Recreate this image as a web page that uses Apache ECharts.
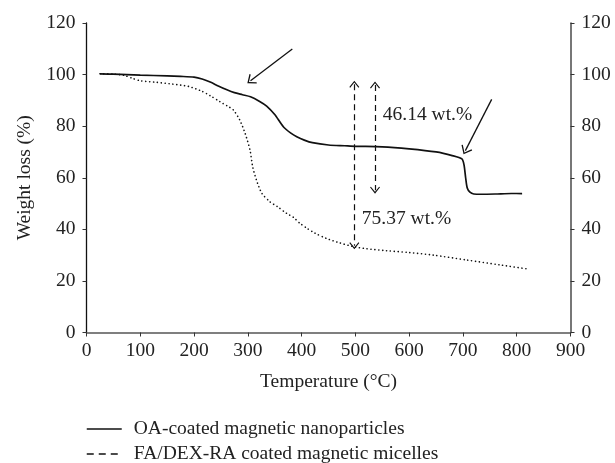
<!DOCTYPE html>
<html>
<head>
<meta charset="utf-8">
<script src="https://cdn.jsdelivr.net/npm/echarts@6/dist/echarts.min.js"></script>
<style>
  html, body { margin: 0; padding: 0; background: #fff; }
  #chart { width: 615px; height: 463px; }
</style>
</head>
<body>
<div id="chart"></div>
<script>
// TGA curves: temperature (°C) and remaining weight (%)
const oaTemp = [25, 50, 100, 150, 175, 200, 215, 230, 245, 260, 275, 290, 305, 322, 335, 350, 366, 380, 391, 405, 420, 450, 480, 500, 550, 600, 650, 680, 698, 702, 705, 708, 713, 720, 735, 760, 790, 810];
const oaWeight = [100.3, 100.2, 99.8, 99.5, 99.3, 99.0, 98.3, 97.1, 95.6, 94.2, 93.0, 92.2, 91.4, 89.6, 87.8, 84.5, 79.8, 77.3, 75.9, 74.6, 73.6, 72.7, 72.4, 72.2, 72.0, 71.2, 70.0, 68.6, 67.3, 65.0, 60.0, 56.0, 54.4, 53.7, 53.6, 53.7, 53.9, 53.86];

const micTemp = [25, 50, 70, 85, 100, 130, 160, 190, 214, 230, 248, 262, 273, 285, 295, 304, 309, 316, 326, 341, 355, 372, 385, 397, 410, 425, 446, 470, 496, 520, 558, 600, 645, 707, 769, 820];
const micWeight = [100.3, 100.2, 99.7, 98.6, 97.6, 97.0, 96.3, 95.4, 93.6, 91.8, 89.5, 87.8, 86.3, 82.4, 77.2, 70.8, 64.3, 59.1, 54.0, 50.7, 48.8, 46.2, 44.6, 42.3, 40.4, 38.5, 36.5, 34.8, 33.3, 32.5, 31.7, 31.0, 30.0, 28.1, 26.2, 24.63];

// Arrow and label annotations in data units [temperature, weight]
const dashedArrows = [
  [[498, 96.3], [498, 33.6]],
  [[536.5, 96.0], [536.5, 55.2]]
];
const pointerArrows = [
  [[382.7, 109.9], [305, 97.6]],
  [[753.4, 90.4], [704.5, 70.5]]
];
const lossLabels = [
  { text: '46.14 wt.%', at: [551, 84.3] },
  { text: '75.37 wt.%', at: [512, 44.0] }
];

const xTicks = { min: 0, max: 900, interval: 100 };
const yTicks = { min: 0, max: 120, interval: 20 };

const seriesNames = ['OA-coated magnetic nanoparticles', 'FA/DEX-RA coated magnetic micelles'];

const FONT = 'Liberation Serif';
const FS = 19.5;
const chevron = 'path://M5,0 L10,6.4 L9.1,7.1 L5,1.8 L0.9,7.1 L0,6.4 Z';

function zip(xs, ys) { return xs.map((x, i) => [x, ys[i]]); }

const chart = echarts.init(document.getElementById('chart'), null, { renderer: 'canvas' });

const yAxisBase = {
  type: 'value',
  min: yTicks.min, max: yTicks.max, interval: yTicks.interval,
  splitLine: { show: false },
  axisTick: { show: true, length: 4, lineStyle: { color: '#333', width: 1 } },
  axisLabel: { fontFamily: FONT, fontSize: FS, color: '#222', margin: 11 }
};

chart.setOption({
  animation: false,
  grid: { left: 86.5, right: 44.5, top: 23, bottom: 130.5, containLabel: false },
  xAxis: {
    type: 'value',
    min: xTicks.min, max: xTicks.max, interval: xTicks.interval,
    name: 'Temperature (°C)',
    nameLocation: 'middle',
    nameGap: 39,
    nameTextStyle: { fontFamily: FONT, fontSize: FS, color: '#222' },
    splitLine: { show: false },
    axisLine: { lineStyle: { color: '#555', width: 1.6 } },
    axisTick: { show: true, length: 4, lineStyle: { color: '#333', width: 1 } },
    axisLabel: { fontFamily: FONT, fontSize: FS, color: '#222', margin: 8 }
  },
  yAxis: [
    Object.assign({}, yAxisBase, {
      position: 'left',
      name: 'Weight loss (%)',
      nameLocation: 'middle',
      nameGap: 51,
      nameTextStyle: { fontFamily: FONT, fontSize: FS, color: '#222' },
      axisLine: { show: true, lineStyle: { color: '#111', width: 1.3 } }
    }),
    Object.assign({}, yAxisBase, {
      position: 'right',
      axisLine: { show: true, lineStyle: { color: '#555', width: 1.6 } }
    })
  ],
  legend: {
    orient: 'vertical',
    left: 86,
    top: 419,
    width: 500,
    height: 60,
    padding: 0,
    itemWidth: 35,
    itemHeight: 14,
    itemGap: 5,
    textStyle: { fontFamily: FONT, fontSize: FS, lineHeight: 20, color: '#222', padding: [0, 0, 0, 7] },
    data: [
      {
        name: seriesNames[0],
        itemStyle: { color: 'transparent', borderColor: 'transparent', opacity: 0 },
        lineStyle: { type: 'solid', width: 1.5, color: '#111' }
      },
      {
        name: seriesNames[1],
        itemStyle: { color: 'transparent', borderColor: 'transparent', opacity: 0 },
        lineStyle: { type: [7, 5], width: 1.3, color: '#111', cap: 'butt' }
      }
    ]
  },
  series: [
    {
      name: seriesNames[0],
      type: 'line',
      data: zip(oaTemp, oaWeight),
      showSymbol: false,
      symbol: 'none',
      smooth: 0.25,
      lineStyle: { color: '#111', width: 1.7 },
      itemStyle: { color: '#111' }
    },
    {
      name: seriesNames[1],
      type: 'line',
      data: zip(micTemp, micWeight),
      showSymbol: false,
      symbol: 'none',
      smooth: 0.25,
      lineStyle: { color: '#111', width: 1.6, type: [0.1, 3.8], cap: 'round' },
      itemStyle: { color: '#111' }
    },
    {
      name: 'annotations',
      type: 'line',
      data: [],
      silent: true,
      markLine: {
        silent: true,
        animation: false,
        label: { show: false },
        emphasis: { disabled: true },
        data: [
          ...dashedArrows.map(([a, b]) => [
            { coord: a, symbol: chevron, symbolSize: [10, 7], lineStyle: { type: [6, 4], width: 1.2, color: '#111' } },
            { coord: b, symbol: chevron, symbolSize: [10, 7] }
          ]),
          ...pointerArrows.map(([a, b]) => [
            { coord: a, symbol: 'none', lineStyle: { type: 'solid', width: 1.3, color: '#111' } },
            { coord: b, symbol: chevron, symbolSize: [12, 8] }
          ])
        ]
      },
      markPoint: {
        silent: true,
        symbol: 'circle',
        symbolSize: 0,
        data: lossLabels.map(l => ({
          coord: l.at,
          value: l.text,
          label: {
            show: true,
            position: 'inside',
            align: 'left',
            verticalAlign: 'middle',
            formatter: l.text,
            fontFamily: FONT,
            fontSize: FS,
            color: '#222'
          }
        }))
      }
    }
  ]
});
</script>
</body>
</html>
